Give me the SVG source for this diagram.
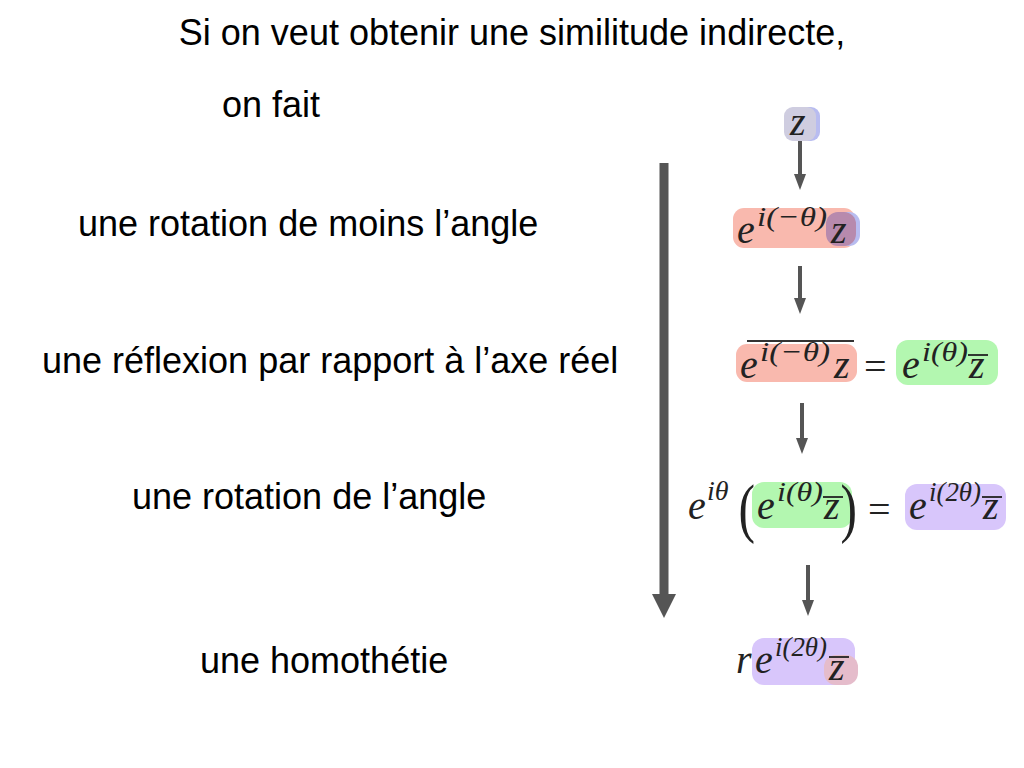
<svg xmlns="http://www.w3.org/2000/svg" width="1024" height="768" viewBox="0 0 1024 768">
<defs>
<style>
.t{font-family:"Liberation Sans",Arial,sans-serif;font-size:36px;fill:#000}
.m{font-family:"Liberation Serif","DejaVu Serif",serif;font-style:italic;fill:#222}
.e{font-size:40px}
.s{font-size:28px}
.n{font-family:"Liberation Serif","DejaVu Serif",serif;fill:#222}
.c{stroke:#555;stroke-width:4;fill:none}
</style>
<marker id="a" markerWidth="4" markerHeight="4" refX="2" refY="2" orient="auto" markerUnits="strokeWidth"><path d="M0,0.5 L4,2 L0,3.5 Z" fill="#555"/></marker>
</defs>
<rect width="1024" height="768" fill="#fff"/>
<g id="labels">
<text class="t" x="512" y="45" text-anchor="middle">Si on veut obtenir une similitude indirecte,</text>
<text class="t" x="222" y="117">on fait</text>
<text class="t" x="78" y="236">une rotation de moins l’angle</text>
<text class="t" x="42" y="373">une réflexion par rapport à l’axe réel</text>
<text class="t" x="132" y="509">une rotation de l’angle</text>
<text class="t" x="200" y="673">une homothétie</text>
</g>
<g id="connectors">
<line x1="664" y1="163" x2="664" y2="598" stroke="#555" stroke-width="9"/>
<path d="M652,594 L676,594 L664,618 Z" fill="#555"/>
<line class="c" x1="800" y1="138" x2="800" y2="182" marker-end="url(#a)"/>
<line class="c" x1="800" y1="266" x2="800" y2="306" marker-end="url(#a)"/>
<line class="c" x1="802" y1="403" x2="802" y2="446" marker-end="url(#a)"/>
<line class="c" x1="808" y1="565" x2="808" y2="608" marker-end="url(#a)"/>
</g>
<g id="n1">
<rect x="786" y="107" width="34" height="34" rx="9" fill="#b8bcf0"/>
<rect x="784" y="107" width="32" height="34" rx="9" fill="#cfcde0"/>
<text class="m e" x="790" y="135">z</text>
</g>
<g id="n2">
<rect x="733" y="208" width="122" height="40" rx="11" fill="#f9b9ae"/>
<rect x="830" y="212" width="30" height="34" rx="11" fill="#b8bcf0"/>
<rect x="826" y="212" width="30" height="34" rx="12" fill="#b78aad"/>
<text class="m e" x="737" y="243">e</text>
<text class="m s" x="757" y="226" textLength="70" lengthAdjust="spacingAndGlyphs">i(−θ)</text>
<text class="m e" x="831" y="243">z</text>
</g>
<g id="n3">
<line x1="747" y1="341" x2="854" y2="341" stroke="#333" stroke-width="2"/>
<rect x="736" y="344" width="121" height="38" rx="11" fill="#f9b9ae"/>
<text class="m e" x="740" y="378">e</text>
<text class="m s" x="760" y="361" textLength="70" lengthAdjust="spacingAndGlyphs">i(−θ)</text>
<text class="m e" x="834" y="378">z</text>
<text class="n e" x="864" y="380">=</text>
<rect x="896" y="340" width="102" height="45" rx="12" fill="#b3f7b0"/>
<text class="m e" x="902" y="378">e</text>
<text class="m s" x="922" y="361" textLength="46" lengthAdjust="spacingAndGlyphs">i(θ)</text>
<text class="m e" x="969" y="378">z</text>
<line x1="968" y1="355" x2="988" y2="355" stroke="#222" stroke-width="1.8"/>
</g>
<g id="n4">
<text class="m e" x="688" y="519">e</text>
<text class="m s" x="707" y="500">iθ</text>
<text class="n" x="738" y="530" font-size="66" transform="translate(185,0) scale(0.75,1)">(</text>
<rect x="752" y="482" width="100" height="46" rx="12" fill="#b3f7b0"/>
<text class="m e" x="757" y="519">e</text>
<text class="m s" x="777" y="501" textLength="46" lengthAdjust="spacingAndGlyphs">i(θ)</text>
<text class="m e" x="824" y="519">z</text>
<line x1="823" y1="497" x2="843" y2="497" stroke="#222" stroke-width="1.8"/>
<text class="n" x="838" y="530" font-size="66" transform="translate(212,0) scale(0.75,1)">)</text>
<text class="n e" x="868" y="523">=</text>
<rect x="905" y="484" width="101" height="46" rx="12" fill="#d8c6fb"/>
<text class="m e" x="909" y="519">e</text>
<text class="m s" x="929" y="501" textLength="52" lengthAdjust="spacingAndGlyphs">i(2θ)</text>
<text class="m e" x="983" y="519">z</text>
<line x1="982" y1="497" x2="1002" y2="497" stroke="#222" stroke-width="1.8"/>
</g>
<g id="n5">
<text class="m e" x="736" y="673">r</text>
<rect x="752" y="638" width="103" height="47" rx="12" fill="#d8c6fb"/>
<rect x="824" y="655" width="34" height="30" rx="12" fill="#e5bccb"/>
<text class="m e" x="755" y="673">e</text>
<text class="m s" x="775" y="656" textLength="52" lengthAdjust="spacingAndGlyphs">i(2θ)</text>
<text class="m e" x="829" y="680">z</text>
<line x1="829" y1="657" x2="849" y2="657" stroke="#222" stroke-width="1.8"/>
</g>
</svg>
